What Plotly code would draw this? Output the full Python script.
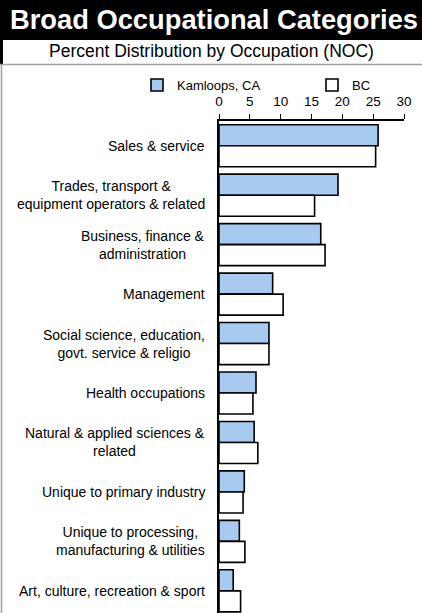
import plotly.graph_objects as go

categories = [
    "Sales & service",
    "Trades, transport &<br>equipment operators & related",
    "Business, finance &<br>administration",
    "Management",
    "Social science, education,<br>govt. service & religio",
    "Health occupations",
    "Natural & applied sciences &<br>related",
    "Unique to primary industry",
    "Unique to processing,<br>manufacturing & utilities",
    "Art, culture, recreation & sport",
]
kamloops = [25.8, 19.3, 16.5, 8.7, 8.1, 6.0, 5.7, 4.1, 3.3, 2.3]
bc = [25.4, 15.5, 17.2, 10.4, 8.1, 5.5, 6.3, 3.9, 4.2, 3.5]
tick_vals = [0, 5, 10, 15, 20, 25, 30]

FONT = "Arial, Liberation Sans, sans-serif"
W, H = 422, 613
L, R, T, B = 219, 18, 121, 0
PW, PH = W - L - R, H - T - B

def px_x(p):
    return (p - L) / PW

def px_y(p):
    return (H - B - p) / PH

ypos = list(range(len(categories)))

fig = go.Figure()
fig.add_trace(go.Bar(
    y=ypos, x=kamloops, orientation="h", name="Kamloops, CA", legend="legend",
    marker=dict(color="#A6CAF0", line=dict(color="#000000", width=1.6)),
))
fig.add_trace(go.Bar(
    y=ypos, x=bc, orientation="h", name="BC", legend="legend2",
    marker=dict(color="#FFFFFF", line=dict(color="#000000", width=1.6)),
))

annotations = []
for i, c in enumerate(categories):
    annotations.append(dict(
        x=0, xref="paper", y=i, yref="y", text=c, showarrow=False,
        xanchor="right", yanchor="middle", align="center", xshift=-12,
        font=dict(family=FONT, size=14, color="#000000"),
    ))
annotations.append(dict(
    x=px_x(213.5), xref="paper", y=px_y(20), yref="paper",
    text="<b>Broad Occupational Categories</b>", showarrow=False,
    xanchor="center", yanchor="middle",
    font=dict(family=FONT, size=27.3, color="#FFFFFF"),
))
annotations.append(dict(
    x=px_x(211.5), xref="paper", y=px_y(51), yref="paper",
    text="Percent Distribution by Occupation (NOC)", showarrow=False,
    xanchor="center", yanchor="middle",
    font=dict(family=FONT, size=17.5, color="#000000"),
))

shapes = [
    dict(type="rect", xref="paper", yref="paper", x0=px_x(-5), x1=px_x(W + 5),
         y0=px_y(40), y1=px_y(-5), fillcolor="#000000", line=dict(width=0), layer="below"),
    dict(type="rect", xref="paper", yref="paper", x0=px_x(0), x1=px_x(3),
         y0=px_y(64), y1=px_y(39), fillcolor="#000000", line=dict(width=0)),
    dict(type="line", xref="paper", yref="paper", x0=px_x(0), x1=px_x(W),
         y0=px_y(64.5), y1=px_y(64.5), line=dict(color="#A0A0A0", width=1.5)),
    dict(type="line", xref="paper", yref="paper", x0=px_x(1.5), x1=px_x(1.5),
         y0=px_y(64.5), y1=px_y(H + 5), line=dict(color="#A0A0A0", width=1.5)),
]

legend_common = dict(
    orientation="h", xanchor="left", y=px_y(85), yanchor="middle",
    font=dict(family=FONT, size=13, color="#000000"),
    bgcolor="rgba(0,0,0,0)",
)

fig.update_layout(
    width=W, height=H,
    margin=dict(l=L, r=R, t=T, b=B),
    paper_bgcolor="#FFFFFF", plot_bgcolor="#FFFFFF",
    barmode="group", bargap=0.15, bargroupgap=0,
    font=dict(family=FONT, size=13, color="#000000"),
    xaxis=dict(
        side="top", range=[0, 30], tickvals=tick_vals, ticks="outside",
        ticklen=5, tickcolor="#000000", tickwidth=1, showline=True,
        linecolor="#000000", linewidth=1.5, showgrid=False, zeroline=False,
        tickfont=dict(family=FONT, size=13.5, color="#000000"),
        ticklabelstandoff=3,
    ),
    yaxis=dict(
        range=[(H - B - 145.7) / 49.46, -0.5],
        showticklabels=False, ticks="", showline=True, linecolor="#000000",
        linewidth=1.5, showgrid=False, zeroline=False,
    ),
    legend=dict(x=px_x(137), **legend_common),
    legend2=dict(x=px_x(312), **legend_common),
    annotations=annotations,
    shapes=shapes,
    showlegend=True,
)

fig.write_html(
    "out.html",
    config={"displayModeBar": False},
    post_script="document.body.style.margin='0';document.body.style.padding='0';",
)
